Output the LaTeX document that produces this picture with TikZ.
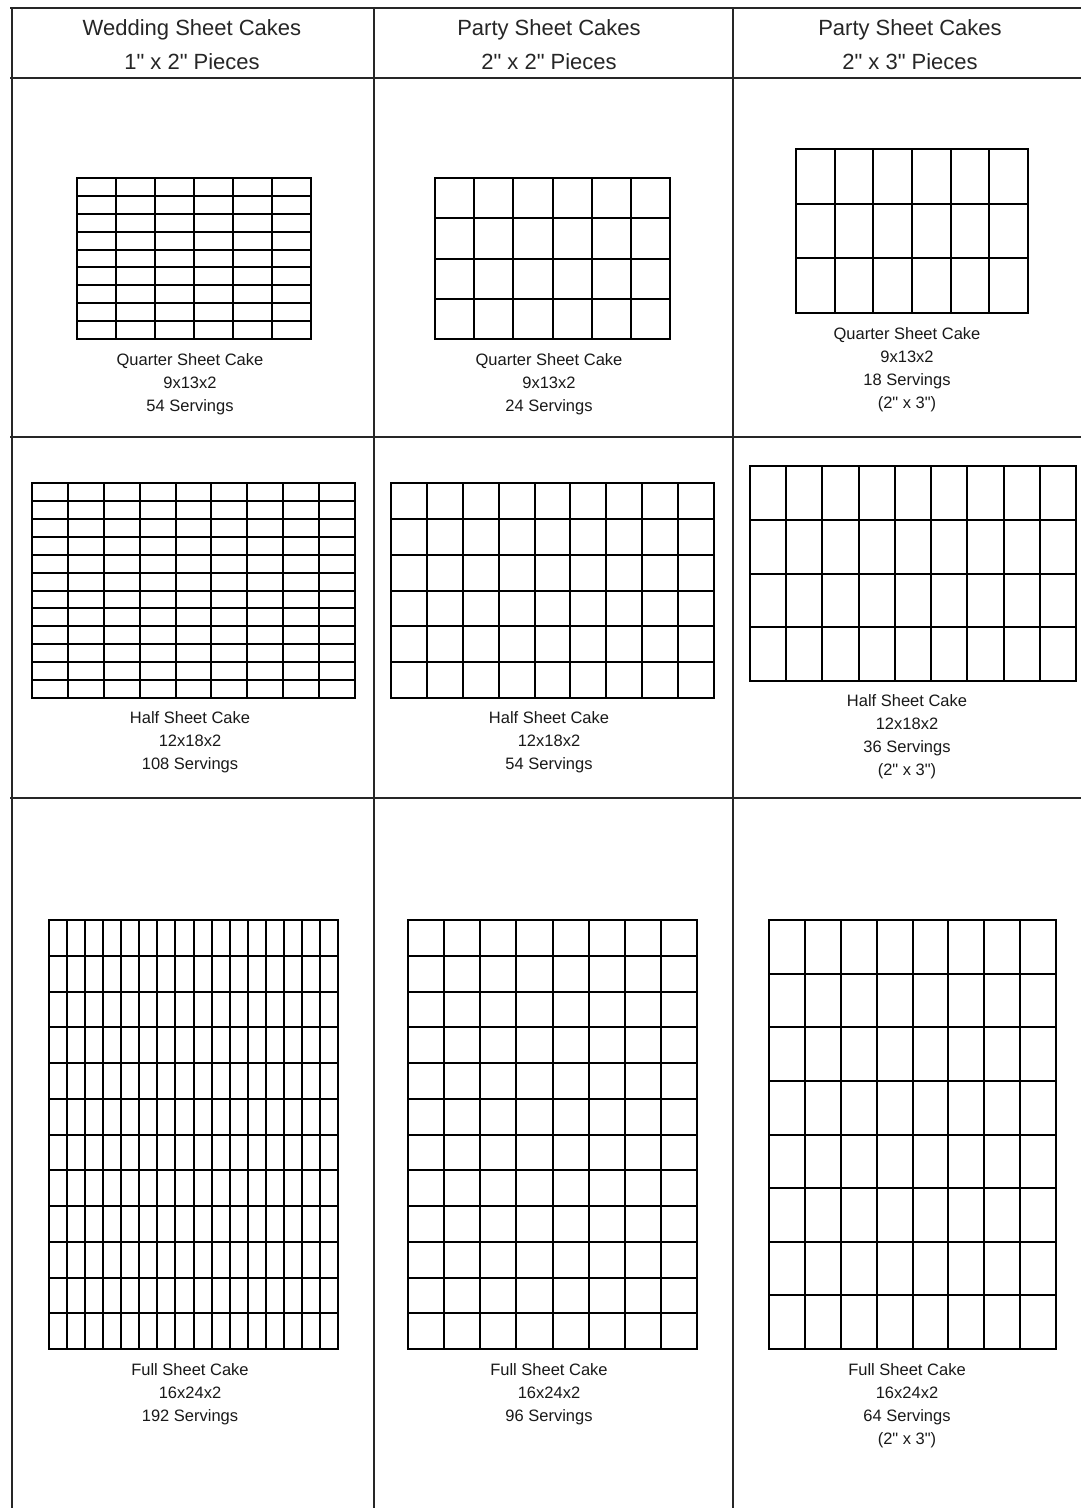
\documentclass[tikz,border=0pt]{standalone}
\usepackage{fontspec}
\setmainfont{Liberation Sans}[Ligatures=TeXOff]
\newcommand{\inq}{\char34}
\begin{document}
\begin{tikzpicture}[x=1pt,y=-1pt,
  tableline/.style={line width=1.5pt, black!85},
  gridline/.style={line width=2pt, black},
  headtxt/.style={font=\fontsize{22}{34}\selectfont, align=center, inner sep=0pt, text=black!85},
  labeltxt/.style={font=\fontsize{16.5}{23}\selectfont, align=center, inner sep=0pt, text=black!90, anchor=north}
]
\useasboundingbox[fill=white] (0,0) rectangle (1081,1508);

% cake grid macro: x1 y1 x2 y2 cols rows
\newcommand{\cakegrid}[6]{%
  \pgfmathsetmacro{\cgw}{(#3-#1)/#5}%
  \pgfmathsetmacro{\cgh}{(#4-#2)/#6}%
  \foreach \i in {1,...,#5}{\draw[gridline] ({#1+\i*\cgw},#2) -- ({#1+\i*\cgw},#4);}%
  \foreach \j in {1,...,#6}{\draw[gridline] (#1,{#2+\j*\cgh}) -- (#3,{#2+\j*\cgh});}%
  \draw[gridline] (#1,#2) rectangle (#3,#4);%
}

% table lines
\draw[tableline] (10,8) -- (1081,8);
\draw[tableline] (10,78) -- (1081,78);
\draw[tableline] (10,437) -- (1081,437);
\draw[tableline] (10,798) -- (1081,798);
\draw[tableline] (12,8) -- (12,1508);
\draw[tableline] (374,8) -- (374,1508);
\draw[tableline] (733,8) -- (733,1508);

% headers
\node[headtxt] (h1) at (192,45) {Wedding Sheet Cakes\\1\inq{} x 2\inq{} Pieces};
\node[headtxt] (h2) at (549,45) {Party Sheet Cakes\\2\inq{} x 2\inq{} Pieces};
\node[headtxt] (h3) at (910,45) {Party Sheet Cakes\\2\inq{} x 3\inq{} Pieces};

% row 1
\cakegrid{77}{178}{311}{339}{6}{9}
\cakegrid{435}{178}{670}{339}{6}{4}
\cakegrid{796}{149}{1028}{313}{6}{3}
\node[labeltxt] (l11) at (190,353) {Quarter Sheet Cake\\9x13x2\\54 Servings};
\node[labeltxt] (l12) at (549,353) {Quarter Sheet Cake\\9x13x2\\24 Servings};
\node[labeltxt] (l13) at (907,327) {Quarter Sheet Cake\\9x13x2\\18 Servings\\(2\inq{} x 3\inq{})};

% row 2
\cakegrid{32}{483}{355}{698}{9}{12}
\cakegrid{391}{483}{714}{698}{9}{6}
\cakegrid{750}{466}{1076}{681}{9}{4}
\node[labeltxt] (l21) at (190,711) {Half Sheet Cake\\12x18x2\\108 Servings};
\node[labeltxt] (l22) at (549,711) {Half Sheet Cake\\12x18x2\\54 Servings};
\node[labeltxt] (l23) at (907,694) {Half Sheet Cake\\12x18x2\\36 Servings\\(2\inq{} x 3\inq{})};

% row 3
\cakegrid{49}{920}{338}{1349}{16}{12}
\cakegrid{408}{920}{697}{1349}{8}{12}
\cakegrid{769}{920}{1056}{1349}{8}{8}
\node[labeltxt] (l31) at (190,1363) {Full Sheet Cake\\16x24x2\\192 Servings};
\node[labeltxt] (l32) at (549,1363) {Full Sheet Cake\\16x24x2\\96 Servings};
\node[labeltxt] (l33) at (907,1363) {Full Sheet Cake\\16x24x2\\64 Servings\\(2\inq{} x 3\inq{})};
\end{tikzpicture}
\end{document}
